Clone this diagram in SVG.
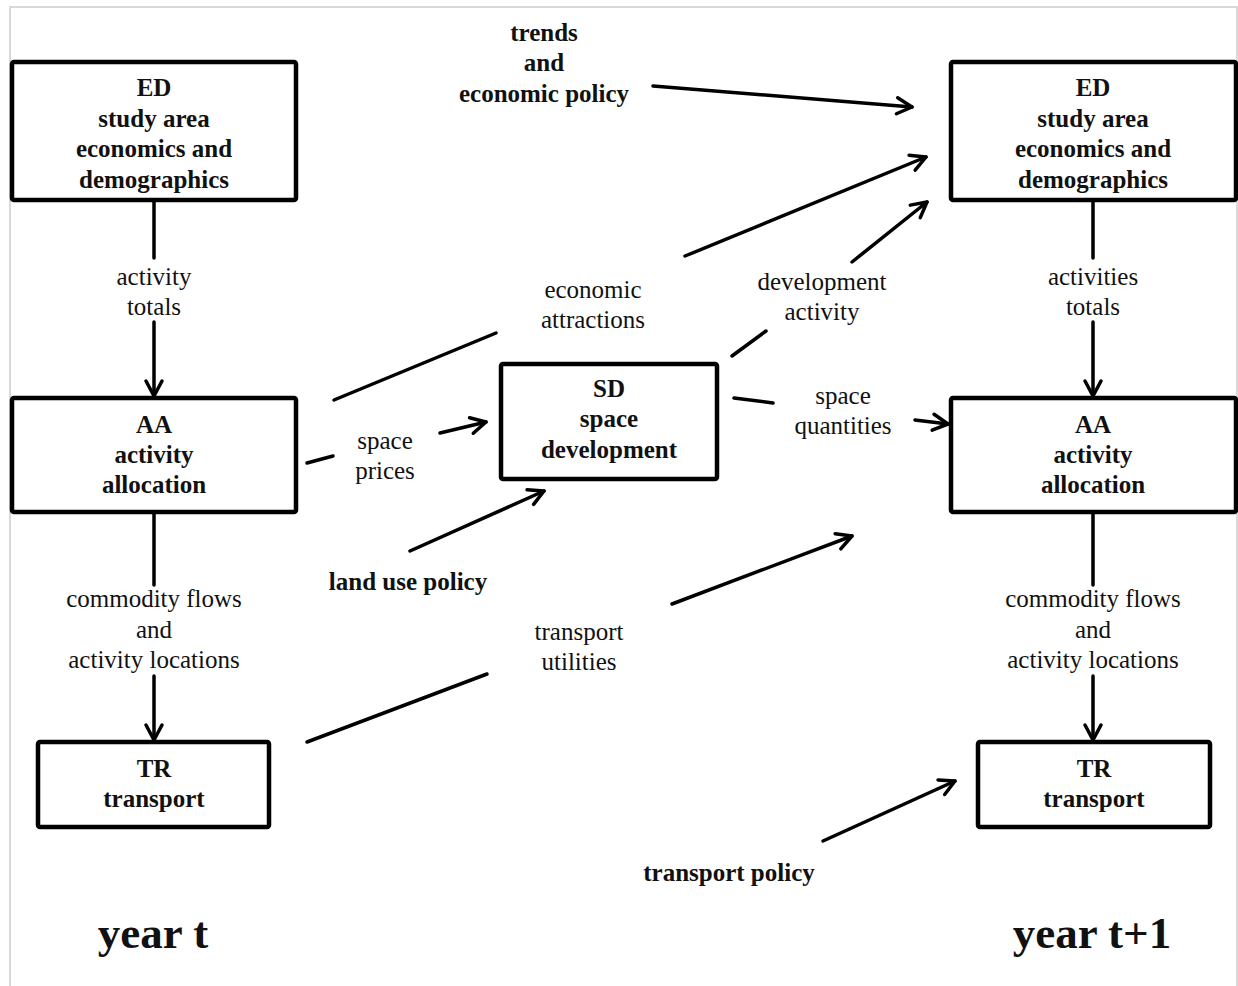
<svg xmlns="http://www.w3.org/2000/svg" width="1238" height="986" viewBox="0 0 1238 986">
<style>
.box{fill:#fff;stroke:#000;stroke-width:4.5}
.b{font-family:"Liberation Serif","Times New Roman",serif;font-weight:bold;font-size:25px;text-anchor:middle;fill:#111}
.r{font-family:"Liberation Serif","Times New Roman",serif;font-size:25px;text-anchor:middle;fill:#111}
.c{stroke:#000;stroke-width:3.5;fill:none;stroke-linecap:round}
.yr{font-size:45px}
</style>
<defs>
<marker id="ah" markerUnits="userSpaceOnUse" markerWidth="24" markerHeight="24" refX="17" refY="10" orient="auto" overflow="visible">
<path d="M2,2 L17,10 L2,18" fill="none" stroke="#000" stroke-width="3.5" stroke-linecap="round" stroke-linejoin="round"/>
</marker>
</defs>
<rect x="0" y="0" width="1238" height="986" fill="#fff"/>
<rect x="10" y="7" width="1227" height="995" fill="none" stroke="#d9d9d9" stroke-width="2"/>

<g id="connectors">
<!-- left column -->
<line class="c" x1="154" y1="200" x2="154" y2="258"/>
<line class="c" x1="154" y1="322" x2="154" y2="396" marker-end="url(#ah)"/>
<line class="c" x1="154" y1="512" x2="154" y2="585"/>
<line class="c" x1="154" y1="676" x2="154" y2="740" marker-end="url(#ah)"/>
<!-- right column -->
<line class="c" x1="1093" y1="200" x2="1093" y2="258"/>
<line class="c" x1="1093" y1="322" x2="1093" y2="396" marker-end="url(#ah)"/>
<line class="c" x1="1093" y1="512" x2="1093" y2="585"/>
<line class="c" x1="1093" y1="676" x2="1093" y2="740" marker-end="url(#ah)"/>
<!-- trends -->
<line class="c" x1="653" y1="86" x2="912" y2="107" marker-end="url(#ah)"/>
<!-- economic attractions -->
<line class="c" x1="334" y1="400" x2="496" y2="333"/>
<line class="c" x1="685" y1="256" x2="926" y2="157" marker-end="url(#ah)"/>
<!-- space prices -->
<line class="c" x1="307" y1="463" x2="333" y2="456"/>
<line class="c" x1="440" y1="433" x2="486" y2="422" marker-end="url(#ah)"/>
<!-- land use policy -->
<line class="c" x1="410" y1="551" x2="544" y2="491" marker-end="url(#ah)"/>
<!-- development activity -->
<line class="c" x1="732" y1="356" x2="766" y2="331"/>
<line class="c" x1="852" y1="262" x2="927" y2="202" marker-end="url(#ah)"/>
<!-- space quantities -->
<line class="c" x1="734" y1="398" x2="773" y2="403"/>
<line class="c" x1="915" y1="420" x2="948" y2="424" marker-end="url(#ah)"/>
<!-- transport utilities -->
<line class="c" x1="307" y1="742" x2="487" y2="674"/>
<line class="c" x1="672" y1="604" x2="852" y2="536" marker-end="url(#ah)"/>
<!-- transport policy -->
<line class="c" x1="823" y1="841" x2="955" y2="781" marker-end="url(#ah)"/>
</g>

<g id="labels">
<text class="r" x="154" y="285">activity</text>
<text class="r" x="154" y="315">totals</text>
<text class="r" x="154" y="607">commodity flows</text>
<text class="r" x="154" y="638">and</text>
<text class="r" x="154" y="668">activity locations</text>
<text class="r" x="1093" y="285">activities</text>
<text class="r" x="1093" y="315">totals</text>
<text class="r" x="1093" y="607">commodity flows</text>
<text class="r" x="1093" y="638">and</text>
<text class="r" x="1093" y="668">activity locations</text>
<text class="r" x="593" y="298">economic</text>
<text class="r" x="593" y="328">attractions</text>
<text class="r" x="822" y="290">development</text>
<text class="r" x="822" y="320">activity</text>
<text class="r" x="385" y="449">space</text>
<text class="r" x="385" y="479">prices</text>
<text class="r" x="843" y="404">space</text>
<text class="r" x="843" y="434">quantities</text>
<text class="r" x="579" y="640">transport</text>
<text class="r" x="579" y="670">utilities</text>
<text class="b" x="544" y="41">trends</text>
<text class="b" x="544" y="71">and</text>
<text class="b" x="544" y="102">economic policy</text>
<text class="b" x="408" y="590">land use policy</text>
<text class="b" x="729" y="881">transport  policy</text>
<text class="b yr" x="153" y="948">year t</text>
<text class="b yr" x="1092" y="948">year t+1</text>
</g>

<g id="ED_t">
<rect class="box" x="12" y="62" width="284" height="138" rx="2"/>
<text class="b" x="154" y="96">ED</text>
<text class="b" x="154" y="126.5">study area</text>
<text class="b" x="154" y="157">economics and</text>
<text class="b" x="154" y="187.5">demographics</text>
</g>
<g id="AA_t">
<rect class="box" x="12" y="398" width="284" height="114" rx="2"/>
<text class="b" x="154" y="433">AA</text>
<text class="b" x="154" y="463">activity</text>
<text class="b" x="154" y="493">allocation</text>
</g>
<g id="TR_t">
<rect class="box" x="38" y="742" width="231" height="85" rx="2"/>
<text class="b" x="154" y="777">TR</text>
<text class="b" x="154" y="807">transport</text>
</g>
<g id="SD">
<rect class="box" x="501" y="364" width="216" height="115" rx="2"/>
<text class="b" x="609" y="397">SD</text>
<text class="b" x="609" y="427">space</text>
<text class="b" x="609" y="458">development</text>
</g>
<g id="ED_t1">
<rect class="box" x="951" y="62" width="285" height="138" rx="2"/>
<text class="b" x="1093" y="96">ED</text>
<text class="b" x="1093" y="126.5">study area</text>
<text class="b" x="1093" y="157">economics and</text>
<text class="b" x="1093" y="187.5">demographics</text>
</g>
<g id="AA_t1">
<rect class="box" x="951" y="398" width="285" height="114" rx="2"/>
<text class="b" x="1093" y="433">AA</text>
<text class="b" x="1093" y="463">activity</text>
<text class="b" x="1093" y="493">allocation</text>
</g>
<g id="TR_t1">
<rect class="box" x="978" y="742" width="232" height="85" rx="2"/>
<text class="b" x="1094" y="777">TR</text>
<text class="b" x="1094" y="807">transport</text>
</g>
</svg>
